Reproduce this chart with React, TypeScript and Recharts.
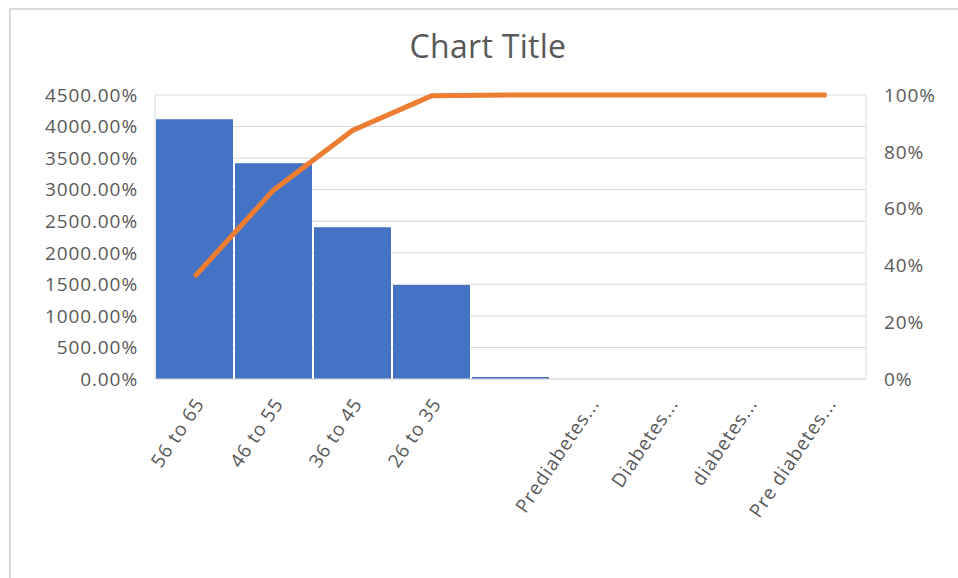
import {
  ComposedChart,
  Bar,
  Line,
  XAxis,
  YAxis,
  CartesianGrid,
} from 'recharts';

const categories = [
  '56 to 65',
  '46 to 55',
  '36 to 45',
  '26 to 35',
  '',
  'Prediabetes...',
  'Diabetes...',
  'diabetes...',
  'Pre diabetes...',
];

// bar values, in percent as the left axis shows them
const counts = [4115, 3418, 2404, 1489, 30, 0, 0, 0, 0];

// cumulative share
const cumulative = [36, 66.5, 87.5, 99.7, 100, 100, 100, 100, 100];

const leftTicks = [0, 500, 1000, 1500, 2000, 2500, 3000, 3500, 4000, 4500];
const rightTicks = [0, 20, 40, 60, 80, 100];

const data = categories.map((name, i) => ({
  name,
  count: counts[i],
  cum: cumulative[i],
}));

const FONT = '"Open Sans", "Noto Sans", sans-serif';
const TEXT = '#595959';
const GRID = '#d9d9d9';
const TICK_FONT = { fill: TEXT, fontSize: 19, fontFamily: FONT, letterSpacing: 0.9 };

function AngledTick({ x, y, payload }: { x?: number; y?: number; payload?: { value: string } }) {
  return (
    <g transform={`translate(${(x ?? 0) + 5},${(y ?? 0) + 13})`}>
      <text
        x={0}
        y={0}
        dy="0.35em"
        textAnchor="end"
        transform="rotate(-56)"
        {...TICK_FONT}
      >
        {payload?.value}
      </text>
    </g>
  );
}

export default function App() {
  return (
    <div
      style={{
        position: 'absolute',
        left: 0,
        top: 0,
        width: 958,
        height: 578,
        background: '#fff',
        fontFamily: FONT,
      }}
    >
      <div
        style={{
          position: 'absolute',
          left: 9,
          top: 8,
          right: 0,
          bottom: 0,
          borderLeft: `2px solid ${GRID}`,
          borderTop: `2px solid ${GRID}`,
        }}
      />
      <div
        style={{
          position: 'absolute',
          left: 0,
          width: 976,
          top: 24,
          textAlign: 'center',
          fontSize: 32,
          letterSpacing: 0.3,
          color: TEXT,
        }}
      >
        Chart Title
      </div>
      <div style={{ position: 'absolute', left: 0, top: 0 }}>
        <ComposedChart
          width={958}
          height={578}
          data={data}
          margin={{ top: 95, right: 0, bottom: 0, left: 0 }}
          barCategoryGap={1}
        >
          <CartesianGrid vertical={false} stroke={GRID} yAxisId="left" />
          <XAxis
            dataKey="name"
            height={199}
            interval={0}
            tick={<AngledTick />}
            tickLine={false}
            axisLine={{ stroke: GRID }}
          />
          <YAxis
            yAxisId="left"
            width={155}
            domain={[0, 4500]}
            ticks={leftTicks}
            tickFormatter={(v: number) => `${v.toFixed(2)}%`}
            tick={TICK_FONT}
            tickLine={false}
            tickSize={0}
            tickMargin={17}
            axisLine={{ stroke: GRID }}
          />
          <YAxis
            yAxisId="right"
            orientation="right"
            width={92}
            domain={[0, 100]}
            ticks={rightTicks}
            tickFormatter={(v: number) => `${v}%`}
            tick={{ ...TICK_FONT, textAnchor: 'start' }}
            tickLine={false}
            tickSize={0}
            tickMargin={18}
            axisLine={{ stroke: GRID }}
          />
          <Bar yAxisId="left" dataKey="count" fill="#4472C4" isAnimationActive={false} />
          <Line
            yAxisId="right"
            dataKey="cum"
            type="linear"
            stroke="#ED7D31"
            strokeWidth={5}
            dot={false}
            activeDot={false}
            isAnimationActive={false}
          />
        </ComposedChart>
      </div>
    </div>
  );
}
